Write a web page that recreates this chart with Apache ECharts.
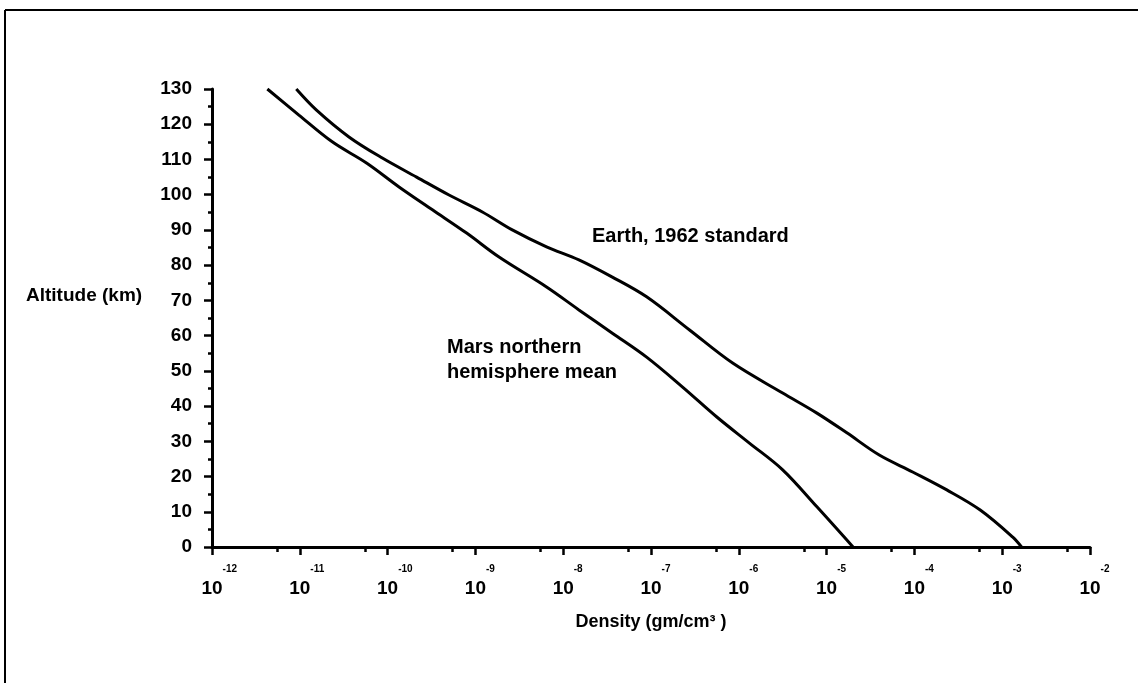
<!DOCTYPE html>
<html>
<head>
<meta charset="utf-8">
<script src="https://cdn.jsdelivr.net/npm/echarts@6/dist/echarts.min.js"></script>
<style>
html,body{margin:0;padding:0;background:#fff;}
#c{width:1138px;height:683px;}
</style>
</head>
<body>
<div id="c"></div>
<script>
// Altitude (km) and density (gm/cm^3)
const marsAltitude = [130, 122.6, 115, 109, 102.2, 95.7, 89.1, 82.3, 73.8, 67.3, 60.7, 53.9, 45.4, 36.9, 29.5, 21.9, 11.4, 0];
const marsDensity = [4.27e-12, 9.77e-12, 2.34e-11, 5.75e-11, 1.35e-10, 3.24e-10, 7.94e-10, 1.86e-9, 6.46e-9, 1.51e-8, 3.63e-8, 8.91e-8, 2.29e-7, 5.62e-7, 1.32e-6, 3.16e-6, 7.76e-6, 2.0e-5];
const earthAltitude = [130, 124, 116.4, 110.4, 105, 99.9, 95.1, 90, 85.2, 81.5, 76.6, 71, 61.6, 52.2, 43.7, 38, 32.4, 26.1, 21.3, 16.2, 10.5, 2.8, 0];
const earthDensity = [9.12e-12, 1.55e-11, 3.63e-11, 8.71e-11, 2.14e-10, 5.01e-10, 1.20e-9, 2.63e-9, 6.46e-9, 1.51e-8, 3.63e-8, 8.91e-8, 2.75e-7, 8.51e-7, 3.16e-6, 7.76e-6, 1.70e-5, 3.98e-5, 9.55e-5, 2.34e-4, 5.62e-4, 1.32e-3, 1.66e-3];
const seriesNames = ['Mars northern\nhemisphere mean', 'Earth, 1962 standard'];
const xAxisTitle = 'Density (gm/cm³ )';
const yAxisTitle = 'Altitude (km)';
const xMin = 1e-12, xMax = 1e-2;
const yMin = 0, yMax = 130, yStep = 10;

const FONT = '"Liberation Sans", Arial, sans-serif';
const chart = echarts.init(document.getElementById('c'));
const pair = (xs, ys) => xs.map((x, i) => [x, ys[i]]);

const option = {
  animation: false,
  backgroundColor: '#fff',
  grid: { left: 212, right: 48, top: 89, bottom: 136 },
  xAxis: {
    type: 'log', logBase: 10, min: xMin, max: xMax,
    axisLine: { lineStyle: { color: '#000', width: 3 } },
    axisTick: { length: 8, lineStyle: { color: '#000', width: 2.5 } },
    minorTick: { show: true, splitNumber: 2, length: 5, lineStyle: { color: '#000', width: 2.5 } },
    splitLine: { show: false },
    minorSplitLine: { show: false },
    axisLabel: {
      margin: 17,
      formatter: function (v) {
        const e = Math.round(Math.log10(v));
        return '{p|' + e + '}{b|10}{s|' + e + '}';
      },
      rich: {
        p: { fontSize: 10, fontWeight: 'bold', fontFamily: FONT, color: 'rgba(0,0,0,0)', verticalAlign: 'top', lineHeight: 34 },
        b: { fontSize: 19, fontWeight: 'bold', fontFamily: FONT, color: '#000', verticalAlign: 'bottom', lineHeight: 34 },
        s: { fontSize: 10, fontWeight: 'bold', fontFamily: FONT, color: '#000', verticalAlign: 'top', lineHeight: 34 }
      }
    },
    name: xAxisTitle, nameLocation: 'middle', nameGap: 66,
    nameTextStyle: { color: '#000', fontSize: 18, fontWeight: 'bold', fontFamily: FONT }
  },
  yAxis: {
    type: 'value', min: yMin, max: yMax, interval: yStep,
    axisLine: { show: true, lineStyle: { color: '#000', width: 3 } },
    axisTick: { show: true, length: 8, lineStyle: { color: '#000', width: 2.5 } },
    minorTick: { show: true, splitNumber: 2, length: 4, lineStyle: { color: '#000', width: 2.5 } },
    splitLine: { show: false },
    axisLabel: { margin: 20, color: '#000', fontSize: 19, fontWeight: 'bold', fontFamily: FONT }
  },
  graphic: [
    { type: 'line', shape: { x1: 5, y1: 10, x2: 1138, y2: 10 }, style: { stroke: '#000', lineWidth: 2 } },
    { type: 'line', shape: { x1: 5, y1: 10, x2: 5, y2: 683 }, style: { stroke: '#000', lineWidth: 2 } },
    { type: 'text', left: 26, top: 286, style: { text: yAxisTitle, fill: '#000', font: 'bold 19px ' + FONT } },
    { type: 'text', left: 592, top: 226, style: { text: seriesNames[1], fill: '#000', font: 'bold 20px ' + FONT } },
    { type: 'text', left: 447, top: 335, style: { text: seriesNames[0], fill: '#000', font: 'bold 20px ' + FONT, lineHeight: 25 } }
  ],
  series: [
    { name: seriesNames[0], type: 'line', data: pair(marsDensity, marsAltitude), showSymbol: false, smooth: 0.35,
      lineStyle: { color: '#000', width: 3 } },
    { name: seriesNames[1], type: 'line', data: pair(earthDensity, earthAltitude), showSymbol: false, smooth: 0.35,
      lineStyle: { color: '#000', width: 3 } }
  ]
};
chart.setOption(option);
</script>
</body>
</html>
